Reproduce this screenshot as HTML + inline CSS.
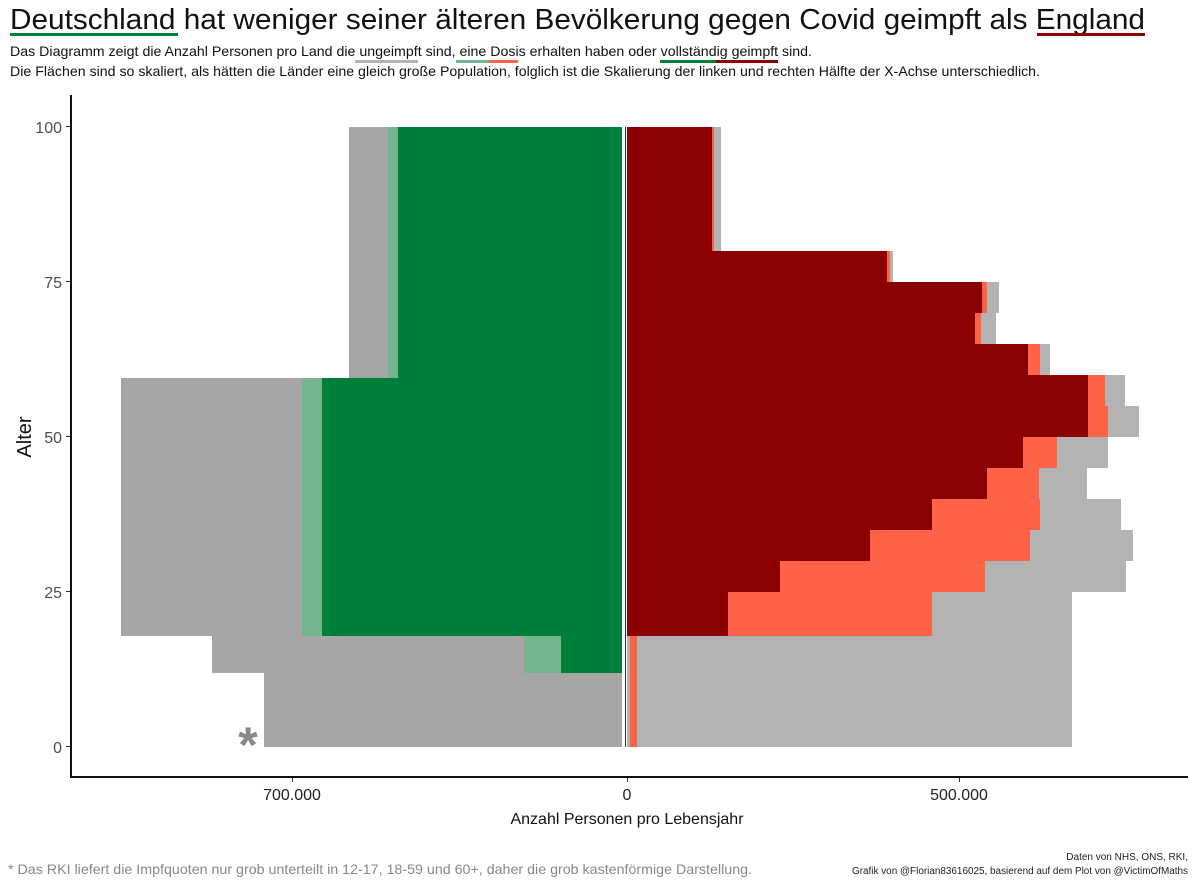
<!DOCTYPE html>
<html><head><meta charset="utf-8"><style>body{margin:0;background:#fff}svg{display:block}text{font-family:"Liberation Sans",sans-serif}</style></head><body>
<svg width="1200" height="880" xmlns="http://www.w3.org/2000/svg">
<text x="10" y="29" font-size="29" fill="#111" textLength="1135" lengthAdjust="spacingAndGlyphs">Deutschland hat weniger seiner älteren Bevölkerung gegen Covid geimpft als England</text>
<rect x="10" y="33" width="168" height="3" fill="#007f3b"/>
<rect x="1037" y="33" width="108" height="3" fill="#8b0000"/>
<text x="10" y="56" font-size="14" fill="#111" textLength="802" lengthAdjust="spacingAndGlyphs">Das Diagramm zeigt die Anzahl Personen pro Land die ungeimpft sind, eine Dosis erhalten haben oder vollständig geimpft sind.</text>
<rect x="355" y="60" width="63" height="3" fill="#b3b3b3"/>
<rect x="456" y="60" width="33" height="3" fill="#74b48e"/>
<rect x="489" y="60" width="29" height="3" fill="#ff6347"/>
<rect x="660" y="60" width="56" height="3" fill="#007f3b"/>
<rect x="716" y="60" width="62" height="3" fill="#8b0000"/>
<text x="10" y="76" font-size="14" fill="#111" textLength="1030" lengthAdjust="spacingAndGlyphs">Die Flächen sind so skaliert, als hätten die Länder eine gleich große Population, folglich ist die Skalierung der linken und rechten Hälfte der X-Achse unterschiedlich.</text>

<!-- Germany -->
<rect x="349" y="127" width="278" height="251" fill="#a6a6a6"/>
<rect x="388" y="127" width="10" height="251" fill="#74b48e"/>
<rect x="398" y="127" width="224" height="251" fill="#007f3b"/>
<rect x="121" y="378" width="506" height="258" fill="#a6a6a6"/>
<rect x="302" y="378" width="20" height="258" fill="#74b48e"/>
<rect x="322" y="378" width="300" height="258" fill="#007f3b"/>
<rect x="212" y="636" width="415" height="37" fill="#a6a6a6"/>
<rect x="524" y="636" width="37" height="37" fill="#74b48e"/>
<rect x="561" y="636" width="61" height="37" fill="#007f3b"/>
<rect x="264" y="673" width="363" height="74" fill="#a6a6a6"/>
<rect x="622" y="127" width="3" height="620" fill="#fff"/>
<rect x="625" y="127" width="1" height="620" fill="#2a2a5a"/>
<rect x="626" y="127" width="1" height="620" fill="#fff"/>

<!-- England -->
<g>
<rect x="627" y="127" width="94" height="124" fill="#b3b3b3"/><rect x="627" y="127" width="87" height="124" fill="#ff6347"/><rect x="627" y="127" width="85" height="124" fill="#8b0000"/>
<rect x="627" y="251" width="266" height="31" fill="#b3b3b3"/><rect x="627" y="251" width="263" height="31" fill="#ff6347"/><rect x="627" y="251" width="260" height="31" fill="#8b0000"/>
<rect x="627" y="282" width="372" height="31" fill="#b3b3b3"/><rect x="627" y="282" width="360" height="31" fill="#ff6347"/><rect x="627" y="282" width="355" height="31" fill="#8b0000"/>
<rect x="627" y="313" width="369" height="31" fill="#b3b3b3"/><rect x="627" y="313" width="354" height="31" fill="#ff6347"/><rect x="627" y="313" width="348" height="31" fill="#8b0000"/>
<rect x="627" y="344" width="423" height="31" fill="#b3b3b3"/><rect x="627" y="344" width="413" height="31" fill="#ff6347"/><rect x="627" y="344" width="401" height="31" fill="#8b0000"/>
<rect x="627" y="375" width="498" height="31" fill="#b3b3b3"/><rect x="627" y="375" width="478" height="31" fill="#ff6347"/><rect x="627" y="375" width="461" height="31" fill="#8b0000"/>
<rect x="627" y="406" width="512" height="31" fill="#b3b3b3"/><rect x="627" y="406" width="481" height="31" fill="#ff6347"/><rect x="627" y="406" width="461" height="31" fill="#8b0000"/>
<rect x="627" y="437" width="481" height="31" fill="#b3b3b3"/><rect x="627" y="437" width="430" height="31" fill="#ff6347"/><rect x="627" y="437" width="396" height="31" fill="#8b0000"/>
<rect x="627" y="468" width="460" height="31" fill="#b3b3b3"/><rect x="627" y="468" width="412" height="31" fill="#ff6347"/><rect x="627" y="468" width="360" height="31" fill="#8b0000"/>
<rect x="627" y="499" width="494" height="31" fill="#b3b3b3"/><rect x="627" y="499" width="413" height="31" fill="#ff6347"/><rect x="627" y="499" width="305" height="31" fill="#8b0000"/>
<rect x="627" y="530" width="506" height="31" fill="#b3b3b3"/><rect x="627" y="530" width="403" height="31" fill="#ff6347"/><rect x="627" y="530" width="243" height="31" fill="#8b0000"/>
<rect x="627" y="561" width="499" height="31" fill="#b3b3b3"/><rect x="627" y="561" width="358" height="31" fill="#ff6347"/><rect x="627" y="561" width="153" height="31" fill="#8b0000"/>
<rect x="627" y="592" width="445" height="44" fill="#b3b3b3"/><rect x="627" y="592" width="305" height="44" fill="#ff6347"/><rect x="627" y="592" width="101" height="44" fill="#8b0000"/>
<rect x="627" y="636" width="445" height="111" fill="#b3b3b3"/><rect x="630" y="636" width="7" height="111" fill="#ff6347"/>
</g>

<!-- axes -->
<rect x="70" y="95" width="2" height="683" fill="#111"/>
<rect x="70" y="776" width="1118" height="2" fill="#111"/>
<g fill="#333"><rect x="66" y="126" width="4" height="1"/><rect x="66" y="281" width="4" height="1"/><rect x="66" y="436" width="4" height="1"/><rect x="66" y="591" width="4" height="1"/><rect x="66" y="746" width="4" height="1"/>
<rect x="292" y="778" width="1" height="4"/><rect x="627" y="778" width="1" height="4"/><rect x="959" y="778" width="1" height="4"/></g>
<g font-size="16" fill="#4d4d4d" text-anchor="end"><text x="62" y="133">100</text><text x="62" y="288">75</text><text x="62" y="443">50</text><text x="62" y="598">25</text><text x="62" y="753">0</text></g>
<g font-size="16" fill="#222" text-anchor="middle"><text x="292" y="800">700.000</text><text x="627" y="800">0</text><text x="959" y="800">500.000</text></g>
<text x="627" y="824" font-size="16" fill="#111" text-anchor="middle">Anzahl Personen pro Lebensjahr</text>
<text transform="translate(31,437) rotate(-90)" font-size="20" fill="#111" text-anchor="middle">Alter</text>
<text x="248" y="762" font-size="50" font-weight="bold" fill="#888" text-anchor="middle">*</text>
<text x="8" y="874" font-size="14" fill="#888" textLength="744" lengthAdjust="spacingAndGlyphs">* Das RKI liefert die Impfquoten nur grob unterteilt in 12-17, 18-59 und 60+, daher die grob kastenförmige Darstellung.</text>
<text x="1188" y="860" font-size="10" fill="#222" text-anchor="end">Daten von NHS, ONS, RKI,</text>
<text x="1188" y="874" font-size="10" fill="#222" text-anchor="end" textLength="336" lengthAdjust="spacingAndGlyphs">Grafik von @Florian83616025, basierend auf dem Plot von @VictimOfMaths</text>
</svg>
</body></html>
